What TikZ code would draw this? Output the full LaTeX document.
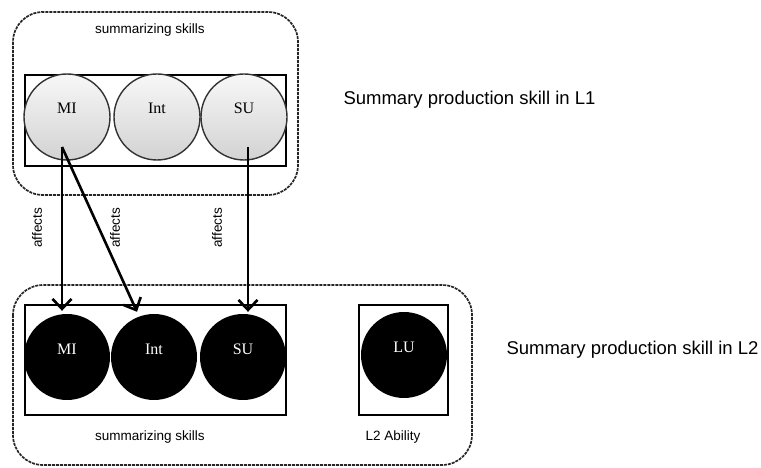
\documentclass[tikz,border=0pt]{standalone}
\usepackage{fontspec}
\setmainfont{Liberation Sans}
\newfontfamily\circfont{Liberation Serif}
\usetikzlibrary{arrows.meta, positioning, calc}

\begin{document}
\begin{tikzpicture}[x=1pt, y=-1pt,
  group/.style={draw=black!85, dash pattern=on 3pt off 1pt, line width=1.7pt, rounded corners=30pt},
  holder/.style={draw, line width=1.4pt},
  skill/.style={circle, minimum size=86pt, inner sep=0pt, text height=8pt, text depth=14pt,
    font=\circfont\fontsize{16}{16}\selectfont},
  lone/.style={skill, draw=black!80, line width=1.4pt, top color=gray!6, bottom color=gray!35},
  ltwo/.style={skill, fill=black, text=white},
  lab/.style={font=\fontsize{13.5}{14}\selectfont},
  big/.style={font=\fontsize{18.5}{20}\selectfont, anchor=west},
  affect/.style={-{Straight Barb[length=10pt, width=19pt]}, line width=2.6pt}]
\useasboundingbox (0,0) rectangle (761,468);

% L1 group
\draw[group] (13,12) rectangle (298,195);
\node[lab] (sum1) at (150,30) {summarizing skills};
\draw[holder] (25,75) rectangle (286,166);
\foreach \x/\name/\word in {67/mi1/MI, 157/int1/Int, 244/su1/SU} {
   \node[lone] (\name) at (\x,117) {\word};
}
\node[big] (lone) at (340,100) {Summary production skill in L1};

% L2 group
\draw[group] (13,285) rectangle (472,465);
\draw[holder] (25,305) rectangle (286,415);
\draw[holder] (359,305) rectangle (448,415);
\foreach \x/\name/\word in {67/mi2/MI, 154/int2/Int, 243/su2/SU} {
   \node[ltwo] (\name) at (\x,357) {\word};
}
\node[ltwo] (lu2) at (404,355) {LU};
\node[lab] (sum2) at (150,437) {summarizing skills};
\node[lab] (ability) at (393,437) {L2 Ability};
\node[big] (ltwo) at (503,350) {Summary production skill in L2};

% Connections
\draw[affect] ($(mi1.center)+(-5,30)$) -- ($(mi2.north)+(-5,-3)$);
\draw[affect] ($(mi1.center)+(-5,30)$) -- ($(int2.north)+(-17,-2)$);
\draw[affect] ($(su1.center)+(4,30)$) -- ($(su2.north)+(5,-2)$);

\foreach \x/\name in {37/aff1, 115/aff2, 217/aff3} {
   \node[lab, rotate=90] (\name) at (\x,228) {affects};
}
\end{tikzpicture}
\end{document}
